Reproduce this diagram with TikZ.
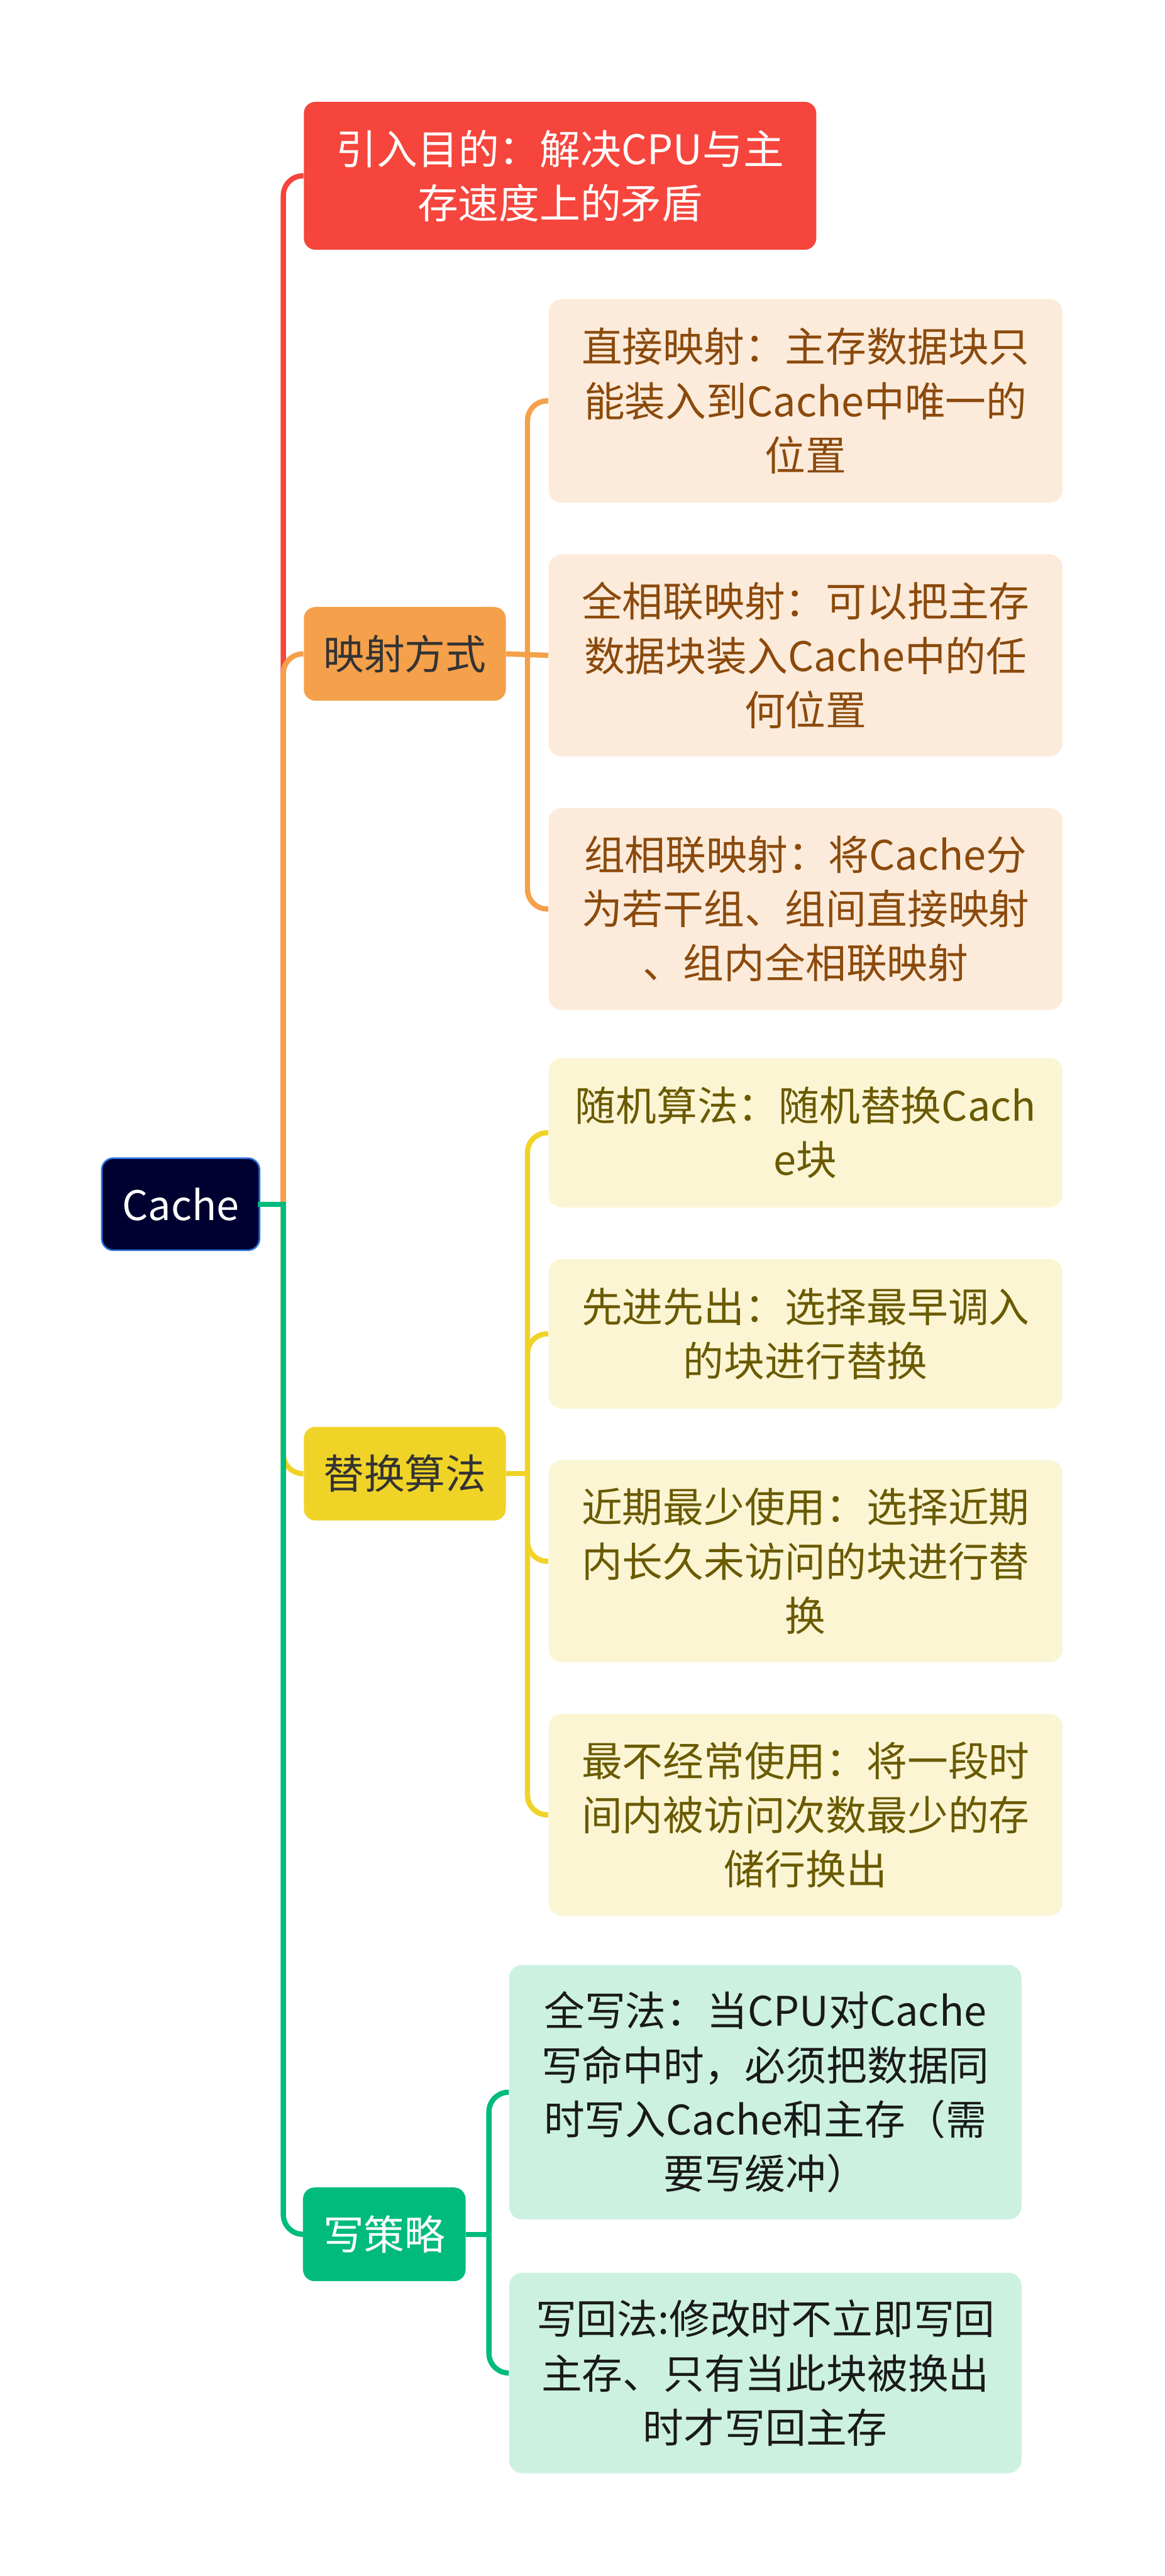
\documentclass[tikz,border=0pt]{standalone}
\usepackage{fontspec}
\newfontfamily\cjk{Noto Sans CJK SC}
\usetikzlibrary{positioning}

\definecolor{rootfill}{HTML}{000030}
\definecolor{rootline}{HTML}{2B6FDB}
\definecolor{aimred}{HTML}{F5453C}
\definecolor{maporange}{HTML}{F5A04A}
\definecolor{mapleaf}{HTML}{FCEBDB}
\definecolor{maptext}{HTML}{8B4A0C}
\definecolor{repyellow}{HTML}{F0D327}
\definecolor{repleaf}{HTML}{FBF5D4}
\definecolor{reptext}{HTML}{6A5A00}
\definecolor{wrgreen}{HTML}{00BB7C}
\definecolor{wrleaf}{HTML}{CCF1E1}
\definecolor{wrtext}{HTML}{1A1A1A}
\definecolor{darktext}{HTML}{333333}

\begin{document}
\begin{tikzpicture}[
  x=1pt, y=1pt,
  font=\cjk\fontsize{24.8}{33}\selectfont,
  node distance=31pt,
  topic/.style={rounded corners=7pt, align=center, inner sep=0pt},
  rootbox/.style={topic, fill=rootfill, draw=rootline, line width=1pt, text=white, minimum width=96pt, minimum height=56pt},
  branch/.style={topic, minimum height=57pt},
  leaf/.style={rounded corners=8pt, align=center, inner sep=0pt, minimum width=313pt},
  link/.style={line width=3.2pt, rounded corners=12pt}
]
\useasboundingbox (0,0) rectangle (709,-1568);

% root and first level
\node[rootbox] (cache) at (110,-733) {Cache};
\node[topic, fill=aimred, text=white, minimum width=312pt, minimum height=90pt] (aim) at (341,-107) {引入目的：解决CPU与主\\存速度上的矛盾};
\node[branch, fill=maporange, text=darktext, minimum width=123pt] (map) at (246.5,-398) {映射方式};
\node[branch, fill=repyellow, text=darktext, minimum width=123pt] (rep) at (246.5,-897) {替换算法};
\node[branch, fill=wrgreen, text=white, minimum width=99pt] (wr) at (234,-1360) {写策略};

% mapping leaves
\node[leaf, fill=mapleaf, text=maptext, minimum height=124pt] (map1) at (490.5,-244) {直接映射：主存数据块只\\能装入到Cache中唯一的\\位置};
\node[leaf, fill=mapleaf, text=maptext, minimum height=123pt, below=of map1] (map2) {全相联映射：可以把主存\\数据块装入Cache中的任\\何位置};
\node[leaf, fill=mapleaf, text=maptext, minimum height=123pt, below=of map2] (map3) {组相联映射：将Cache分\\为若干组、组间直接映射\\、组内全相联映射};

% replacement leaves
\node[leaf, fill=repleaf, text=reptext, minimum height=91pt] (rep1) at (490.5,-689.5) {随机算法：随机替换Cach\\e块};
\node[leaf, fill=repleaf, text=reptext, minimum height=91pt, below=of rep1] (rep2) {先进先出：选择最早调入\\的块进行替换};
\node[leaf, fill=repleaf, text=reptext, minimum height=123pt, below=of rep2] (rep3) {近期最少使用：选择近期\\内长久未访问的块进行替\\换};
\node[leaf, fill=repleaf, text=reptext, minimum height=123pt, below=of rep3] (rep4) {最不经常使用：将一段时\\间内被访问次数最少的存\\储行换出};

% write leaves
\node[leaf, fill=wrleaf, text=wrtext, minimum width=312pt, minimum height=155pt] (wr1) at (466,-1273.5) {全写法：当CPU对Cache\\写命中时，必须把数据同\\时写入Cache和主存（需\\要写缓冲）};
\node[leaf, fill=wrleaf, text=wrtext, minimum width=312pt, minimum height=122pt, below=32pt of wr1] (wr2) {写回法:修改时不立即写回\\主存、只有当此块被换出\\时才写回主存};

\coordinate (hub) at ([xshift=14pt]cache.east);
\coordinate (maphub) at ([xshift=13pt]map.east);
\coordinate (rephub) at ([xshift=13pt]rep.east);
\coordinate (wrhub) at ([xshift=14pt]wr.east);

% trunk
\draw[link, aimred] (hub) |- (aim.west);
\draw[link, maporange] (hub) |- (map.west);
\draw[link, repyellow] (hub) |- (rep.west);
\draw[link, wrgreen] (hub) |- (wr.west);
\draw[link, wrgreen, line cap=rect] (cache.east) -- (hub);

% branches
\draw[link, maporange] (map.east) -- (map2.west);
\draw[link, maporange] (maphub) |- (map1.west);
\draw[link, maporange] (maphub) |- (map3.west);
\draw[link, repyellow] (rep.east) -- (rephub);
\draw[link, repyellow] (rephub) |- (rep1.west);
\draw[link, repyellow] (rephub) |- (rep2.west);
\draw[link, repyellow] (rephub) |- (rep3.west);
\draw[link, repyellow] (rephub) |- (rep4.west);
\draw[link, wrgreen] (wr.east) -- (wrhub);
\draw[link, wrgreen] (wrhub) |- (wr1.west);
\draw[link, wrgreen] (wrhub) |- (wr2.west);
\end{tikzpicture}
\end{document}
